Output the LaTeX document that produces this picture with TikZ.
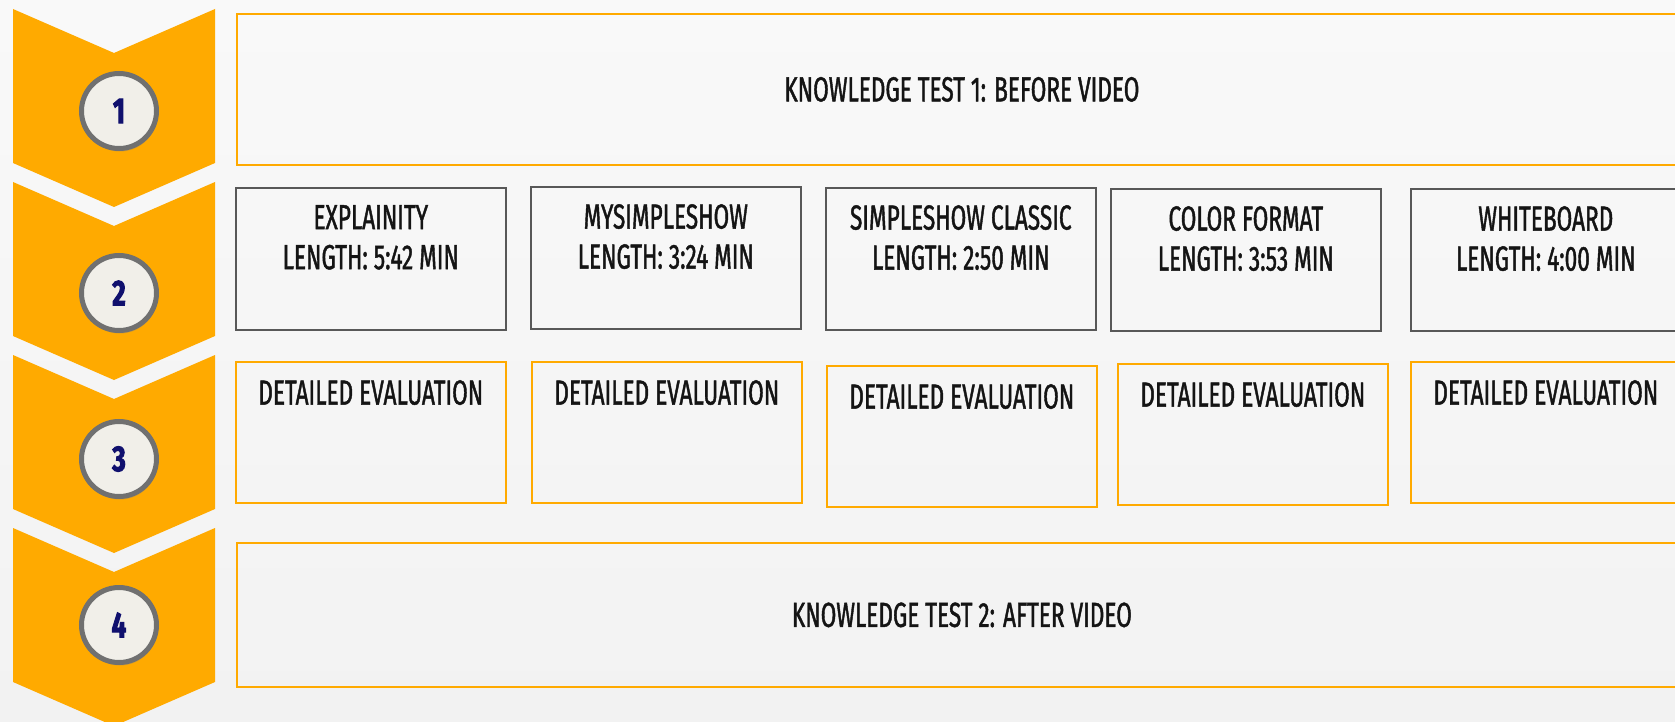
\documentclass[tikz,border=0pt]{standalone}
\usepackage{fontspec}
\setmainfont{Fira Sans}[FakeStretch=0.65, FakeBold=1.2]
\newfontfamily\numfont{Fira Sans}[FakeStretch=0.72, FakeBold=2.5]
\usetikzlibrary{positioning,shadows}

\definecolor{stepamber}{RGB}{255,170,0}
\definecolor{boxgray}{RGB}{88,88,88}
\definecolor{ringgray}{RGB}{112,112,112}
\definecolor{circfill}{RGB}{241,239,233}
\definecolor{numnavy}{RGB}{16,16,110}
\definecolor{bgtop}{RGB}{249,249,249}
\definecolor{bgbot}{RGB}{242,242,242}

\begin{document}
\begin{tikzpicture}[
    x=1pt, y=-1pt,
    font=\fontsize{34.8}{40}\selectfont,
    testbox/.style={draw=stepamber, line width=1.8pt, inner sep=0pt,
        minimum width=1450pt, anchor=north west, text=black!92},
    videobox/.style={draw=boxgray, line width=1.6pt, inner sep=0pt,
        minimum width=270pt, minimum height=142pt, anchor=north west},
    evalbox/.style={draw=stepamber, line width=1.6pt, inner sep=0pt,
        minimum width=270pt, minimum height=141pt, anchor=north west},
    boxtext/.style={inner sep=0pt, anchor=north, align=center, text=black!92},
    stepcircle/.style={circle, draw=ringgray, line width=5pt, fill=circfill,
        minimum size=75pt, inner sep=0pt, text=numnavy,
        font=\numfont\bfseries\fontsize{36}{36}\selectfont,
        drop shadow={shadow xshift=1pt, shadow yshift=-3pt, opacity=.35}}
]

%% Pozadie
\useasboundingbox (0,0) rectangle (1675,722);
\clip (0,0) rectangle (1675,722);
\shade[top color=bgtop, bottom color=bgbot] (0,0) rectangle (1675,722);

%% Šípky (chevrony) s číslami krokov
\foreach \i/\top/\cy in {1/9/111, 2/182/293, 3/355/459, 4/528/625} {
    \fill[stepamber] (13,\top) -- (114,\top+44) -- (215,\top)
        -- (215,\top+154) -- (114,\top+198) -- (13,\top+154) -- cycle;
    \node[stepcircle] (num\i) at (119,\cy) {\i};
}

%% Krok 1 a 4: vedomostné testy
\node[testbox, minimum height=151pt] (test1) at (236,13)
    {KNOWLEDGE TEST 1: BEFORE VIDEO};
\node[testbox, minimum height=144pt] (test2) at (236,542)
    {KNOWLEDGE TEST 2: AFTER VIDEO};

%% Krok 2: videá
\foreach \i/\xl/\yt/\name/\len in {
    1/235/187/EXPLAINITY/5:42,
    2/530/186/MYSIMPLESHOW/3:24,
    3/825/187/SIMPLESHOW CLASSIC/2:50,
    4/1110/188/COLOR FORMAT/3:53,
    5/1410/188/WHITEBOARD/4:00%
} {
    \node[videobox] (vid\i) at (\xl,\yt) {};
    \node[boxtext] (vidtxt\i) at ([yshift=-18pt]vid\i.north)
        {\name\\LENGTH: \len{} MIN};
}

%% Krok 3: detailné hodnotenie
\foreach \i/\xl/\yt in {1/235/361, 2/531/361, 3/826/365, 4/1117/363, 5/1410/361} {
    \node[evalbox] (eval\i) at (\xl,\yt) {};
    \node[boxtext] (evaltxt\i) at ([yshift=-19pt]eval\i.north)
        {DETAILED EVALUATION};
}

\end{tikzpicture}
\end{document}
